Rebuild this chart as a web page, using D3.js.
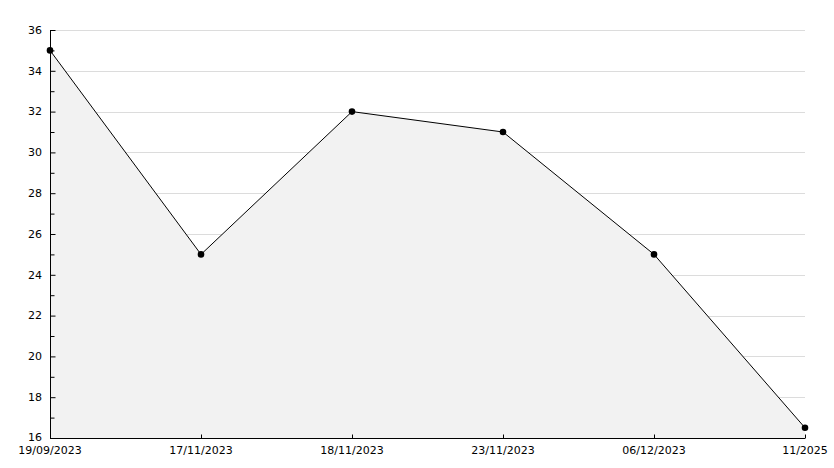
<!DOCTYPE html>
<html>
<head>
<meta charset="utf-8">
<script src="https://cdn.jsdelivr.net/npm/d3@7"></script>
<style>
  body { margin: 0; background: #fff; }
  svg text { font-family: "DejaVu Sans", sans-serif; font-size: 11px; fill: #000; }
</style>
</head>
<body>
<div id="chart"></div>
<script>
// chart data
const dates = ["19/09/2023", "17/11/2023", "18/11/2023", "23/11/2023", "06/12/2023", "11/2025"];
const values = [35, 25, 32, 31, 25, 16.5];
const majorTicks = [16, 18, 20, 22, 24, 26, 28, 30, 32, 34, 36];
const minorTicks = [17, 19, 21, 23, 25, 27, 29, 31, 33, 35];

const width = 834, height = 468;
const margin = {top: 30, right: 29, bottom: 30, left: 50};
const innerW = width - margin.left - margin.right;
const innerH = height - margin.top - margin.bottom;

const svg = d3.select("#chart").append("svg")
	.attr("width", width)
	.attr("height", height);

const g = svg.append("g")
	.attr("transform", "translate(" + margin.left + "," + margin.top + ")");

const x = d3.scalePoint().domain(dates).range([0, innerW]);
const y = d3.scaleLinear().domain([16, 36]).range([innerH, 0]);

const points = dates.map((d, i) => ({date: d, value: values[i]}));

// gridlines (fill is drawn over them)
g.append("g").selectAll("line")
	.data(majorTicks.filter(t => t > 16))
	.enter().append("line")
	.attr("x1", 0).attr("x2", innerW)
	.attr("y1", d => Math.round(y(d)) + 0.5).attr("y2", d => Math.round(y(d)) + 0.5)
	.attr("stroke", "#dcdcdc");

// area under the line
const area = d3.area()
	.x(d => x(d.date))
	.y0(innerH)
	.y1(d => y(d.value));

g.append("path")
	.datum(points)
	.attr("d", area)
	.attr("fill", "#f2f2f2");

const line = d3.line()
	.x(d => x(d.date))
	.y(d => y(d.value));

g.append("path")
	.datum(points)
	.attr("d", line)
	.attr("fill", "none")
	.attr("stroke", "#000")
	.attr("stroke-width", 1);

g.append("g").selectAll("path")
	.data(points)
	.enter().append("path")
	.attr("transform", d => "translate(" + x(d.date) + "," + y(d.value) + ")")
	.attr("d", d3.symbol().type(d3.symbolCircle).size(34))
	.attr("fill", "#000");

// y axis, ticks pointing into the plot
const yAxis = g.append("g")
	.attr("transform", "translate(0.5,0)")
	.call(d3.axisRight(y).tickValues(majorTicks).tickSize(5).tickFormat(""));
yAxis.select(".domain").attr("d", "M0," + y(36) + "V" + (innerH + 0.5));

g.append("g")
	.attr("transform", "translate(0.5,0)")
	.call(d3.axisRight(y).tickValues(minorTicks).tickSize(4).tickFormat(""))
	.select(".domain").remove();

g.append("g").selectAll("text")
	.data(majorTicks)
	.enter().append("text")
	.attr("x", -8)
	.attr("y", d => y(d) - (d === 16 ? 1 : 0))
	.attr("dy", "0.35em")
	.attr("text-anchor", "end")
	.text(d => d);

// x axis, ticks pointing up
const xAxis = g.append("g")
	.attr("transform", "translate(0," + (innerH + 0.5) + ")")
	.call(d3.axisTop(x).tickSize(4).tickFormat(""));
xAxis.select(".domain").attr("d", "M0,0H" + innerW);

g.append("g").selectAll("text")
	.data(dates)
	.enter().append("text")
	.attr("x", d => x(d))
	.attr("y", innerH + 16)
	.attr("text-anchor", "middle")
	.text(d => d);
</script>
</body>
</html>
